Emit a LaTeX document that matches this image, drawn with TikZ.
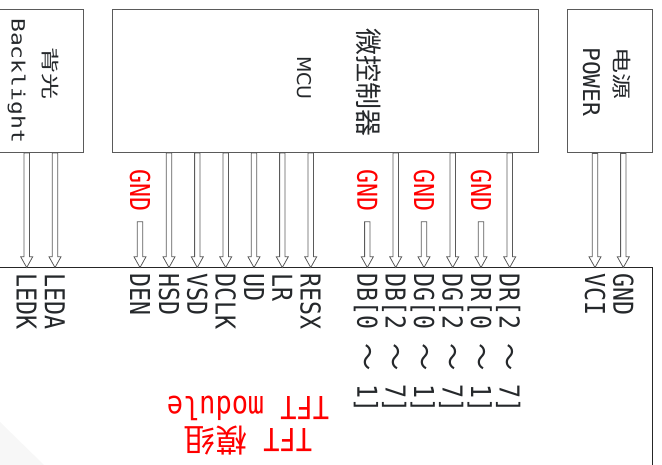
\documentclass[tikz,border=0pt]{standalone}
\usepackage{fontspec}
\usepackage{graphicx}
\setmainfont{DejaVu Sans}
\newfontfamily\pinfont[FakeStretch=0.85]{DejaVu Sans Mono}
\newfontfamily\monofont{DejaVu Sans Mono}
\newfontfamily\widemono[FakeStretch=1.26]{DejaVu Sans Mono}
\newfontfamily\mcufont{DejaVu Sans}
\newfontfamily\cjk{Noto Sans CJK SC}
\usetikzlibrary{calc}
\definecolor{linegray}{HTML}{5A5A5A}
\definecolor{textdark}{HTML}{25282B}
\definecolor{gndred}{HTML}{FF0000}
\tikzset{
  box/.style={draw=linegray, line width=0.9pt, inner sep=0pt, anchor=north west},
  pin/.style={draw=linegray, line width=0.8pt, line join=miter, to path={
    ($(\tikztostart)+(-2.7pt,0pt)$) -- ($(\tikztotarget)+(-2.7pt,10.7pt)$)
    -- ($(\tikztotarget)+(-6pt,10.7pt)$) -- (\tikztotarget)
    -- ($(\tikztotarget)+(6pt,10.7pt)$) -- ($(\tikztotarget)+(2.7pt,10.7pt)$)
    -- ($(\tikztostart)+(2.7pt,0pt)$) -- cycle}},
  vlabel/.style={rotate=-90, anchor=base west, inner sep=0pt, text=textdark},
  pinlabel/.style={vlabel, font=\pinfont\fontsize{27.4}{30}\selectfont},
  gndlabel/.style={pinlabel, text=gndred},
  zhlabel/.style={rotate=-90, inner sep=0pt, text=textdark},
}
\begin{document}
\begin{tikzpicture}[x=1pt,y=-1pt]
\useasboundingbox (0,0) rectangle (662,465);
\fill[black!3] (0,422) -- (44,465) -- (0,465) -- cycle;
% boxes
\node[box, minimum width=85pt, minimum height=142.5pt] (bl) at (-2,9.5) {};
\node[box, minimum width=425.7pt, minimum height=142.5pt] (mcu) at (112.3,9.5) {};
\node[box, minimum width=85pt, minimum height=143pt] (pwr) at (566.7,9.5) {};
\node[box, draw=black!85, minimum width=653.7pt, minimum height=230pt] (tft) at (-2,267.5) {};
% box texts
\node[vlabel, font=\widemono\fontsize{18.3}{20}\selectfont] (bl-en) at (11.7,18) {Backlight};
\node[zhlabel, font=\cjk\fontsize{26}{28}\selectfont] (bl-zh) at (50,73.5) {\scalebox{1}[0.7]{背光}};
\node[vlabel, font=\mcufont] (mcu-en) at (297,56) {\scalebox{1.9}{\fontsize{10}{12}\selectfont MCU}};
\node[zhlabel, font=\cjk\fontsize{27}{29}\selectfont] (mcu-zh) at (369,83) {微控制器};
\node[vlabel, font=\monofont\fontsize{23}{25}\selectfont] (pwr-en) at (583,47) {POWER};
\node[zhlabel, font=\cjk\fontsize{26}{28}\selectfont] (pwr-zh) at (621.5,73.5) {\scalebox{1}[0.75]{电源}};
\node[rotate=180, align=center, inner sep=0pt, text=gndred, font=\pinfont\fontsize{31.7}{32}\selectfont] (tft-l) at (248,426) {TFT {\cjk 模组}\\TFT module};
% pins driven by a source box
\foreach \n/\x/\src/\t in {
  ledk/26.7/bl/LEDK, leda/55/bl/LEDA,
  hsd/169/mcu/HSD, vsd/197.3/mcu/VSD, dclk/225.7/mcu/DCLK, ud/254/mcu/UD,
  lr/282.3/mcu/LR, resx/310.7/mcu/RESX,
  db2/395.7/mcu/{DB[2 {\cjk ～} 7]}, dg2/452.7/mcu/{DG[2 {\cjk ～} 7]},
  dr2/509.7/mcu/{DR[2 {\cjk ～} 7]},
  vci/595/pwr/VCI, gnd/623.3/pwr/GND}{
  \coordinate (\n) at (\x,267.5);
  \coordinate (\n-s) at (\n |- \src.south);
  \coordinate (\n-e) at (\n |- tft.north);
  \draw[pin] (\n-s) to (\n-e);
  \node[pinlabel] (\n-l) at (\x-10,273) {\t};
}
% pins tied to GND
\foreach \n/\x/\t in {
  den/140/DEN, db0/367.3/{DB[0 {\cjk ～} 1]},
  dg0/424/{DG[0 {\cjk ～} 1]}, dr0/481/{DR[0 {\cjk ～} 1]}}{
  \coordinate (\n) at (\x,267.5);
  \coordinate (\n-s) at (\x,221.7);
  \coordinate (\n-e) at (\n |- tft.north);
  \node[gndlabel] (\n-g) at (\x-10,169) {GND};
  \draw[pin] (\n-s) to (\n-e);
  \node[pinlabel] (\n-l) at (\x-10,273) {\t};
}
\end{tikzpicture}
\end{document}
